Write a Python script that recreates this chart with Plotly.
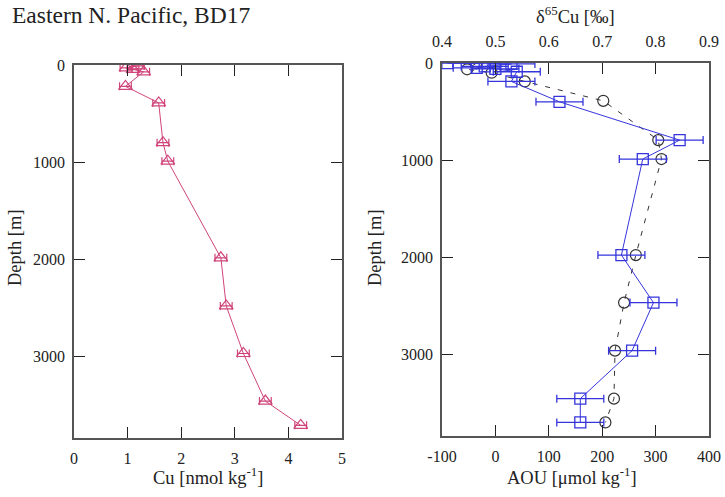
import plotly.graph_objects as go

# ---- Data ----
cu_depth = [10, 30, 45, 70, 220, 390, 800, 990, 1985, 2480, 2970, 3460, 3710]
cu_vals = [1.2, 0.97, 1.1, 1.3, 0.96, 1.58, 1.66, 1.75, 2.74, 2.84, 3.16, 3.57, 4.23]
cu_err = [0.11] * len(cu_vals)

d65_depth = [2, 10, 35, 50, 60, 90, 190, 400, 795, 990, 1980, 2470, 2965, 3460, 3705]
d65_vals = [0.41, 0.53, 0.48, 0.465, 0.50, 0.54, 0.53, 0.62, 0.845, 0.776, 0.736, 0.796, 0.756, 0.659, 0.659]
d65_err = [0.044] * len(d65_vals)

aou_depth = [3, 65, 100, 190, 390, 795, 990, 1980, 2470, 2965, 3460, 3705]
aou_vals = [-36, -53, -7, 55, 202, 305, 311, 263, 241, 224, 222, 206]

aou_ticks = [-100, 0, 100, 200, 300, 400]
aou_ticktext = ["-100", "0", "100", "200", "300", "400"]

W, H = 725, 497
FONT = "Liberation Serif"
PINK = "#d0457a"
BLUE = "#3535dc"
DARK = "#333333"
AX = "#555555"

def px(x):
    return x / W

def py(y):
    return 1 - y / H

fig = go.Figure()

fig.add_trace(go.Scatter(
    x=cu_vals, y=cu_depth, mode="lines+markers",
    line=dict(color=PINK, width=1),
    marker=dict(symbol="triangle-up-open", size=12, color=PINK, line=dict(width=1.2)),
    error_x=dict(type="data", array=cu_err, color=PINK, thickness=1.2, width=4),
    xaxis="x", yaxis="y", showlegend=False))

fig.add_trace(go.Scatter(
    x=aou_vals, y=aou_depth, mode="lines+markers",
    line=dict(color=DARK, width=1, dash="5px,8px"),
    marker=dict(symbol="circle-open", size=11, color=DARK, line=dict(width=1.2)),
    xaxis="x2", yaxis="y2", showlegend=False))

fig.add_trace(go.Scatter(
    x=d65_vals, y=d65_depth, mode="lines+markers",
    line=dict(color=BLUE, width=1),
    marker=dict(symbol="square-open", size=11, color=BLUE, line=dict(width=1.3)),
    error_x=dict(type="data", array=d65_err, color=BLUE, thickness=1.3, width=4),
    xaxis="x3", yaxis="y2", showlegend=False))

tickfont = dict(family=FONT, size=16, color="#222")
common = dict(showgrid=False, zeroline=False, showline=True, linecolor=AX, linewidth=1.5,
              ticks="inside", ticklen=11, tickcolor="#222", tickwidth=1.2,
              tickfont=tickfont, automargin=False)

fig.update_layout(
    width=W, height=H,
    margin=dict(l=0, r=0, t=0, b=0),
    paper_bgcolor="white", plot_bgcolor="white",
    xaxis=dict(domain=[px(74), px(342)], range=[0, 5], dtick=1, mirror="ticks",
               anchor="y", ticklabelstandoff=5, **common),
    yaxis=dict(domain=[py(438), py(65)], range=[3840, 0], dtick=1000, mirror="ticks",
               anchor="x", ticklabelstandoff=4, **common),
    xaxis2=dict(domain=[px(442), px(709)], range=[-100, 400], tickvals=aou_ticks,
                ticktext=aou_ticktext, mirror=True, anchor="y2", ticklabelstandoff=5, **common),
    yaxis2=dict(domain=[py(436), py(63)], range=[3845, 0], dtick=1000, mirror="ticks",
                anchor="x2", ticklabelstandoff=4, **common),
    xaxis3=dict(range=[0.4, 0.9], dtick=0.1, overlaying="x2", side="top", anchor="y2",
                tickformat=".1f", ticklabelstandoff=8, **common),
)

ann_font = dict(family=FONT, size=18.5, color="#222")
annotations = [
    dict(text="Eastern N. Pacific, BD17", x=px(10), y=py(15), xanchor="left", yanchor="middle",
         font=dict(family=FONT, size=23.5, color="#222"), showarrow=False),
    dict(text="Depth [m]", x=px(15), y=py(248), textangle=-90, xanchor="center", yanchor="middle",
         font=ann_font, showarrow=False),
    dict(text="Depth [m]", x=px(375), y=py(248), textangle=-90, xanchor="center", yanchor="middle",
         font=ann_font, showarrow=False),
    dict(text="Cu [nmol kg<sup>-1</sup>]", x=px(208), y=py(476), xanchor="center", yanchor="middle",
         font=ann_font, showarrow=False),
    dict(text="AOU [μmol kg<sup>-1</sup>]", x=px(572), y=py(476), xanchor="center", yanchor="middle",
         font=ann_font, showarrow=False),
    dict(text="δ<sup>65</sup>Cu [‰]", x=px(575), y=py(15), xanchor="center", yanchor="middle",
         font=ann_font, showarrow=False),
]
for a in annotations:
    a["xref"] = "paper"
    a["yref"] = "paper"
fig.update_layout(annotations=annotations)

fig.write_html("out.html", config={"displayModeBar": False},
               post_script="document.body.style.margin='0';")
